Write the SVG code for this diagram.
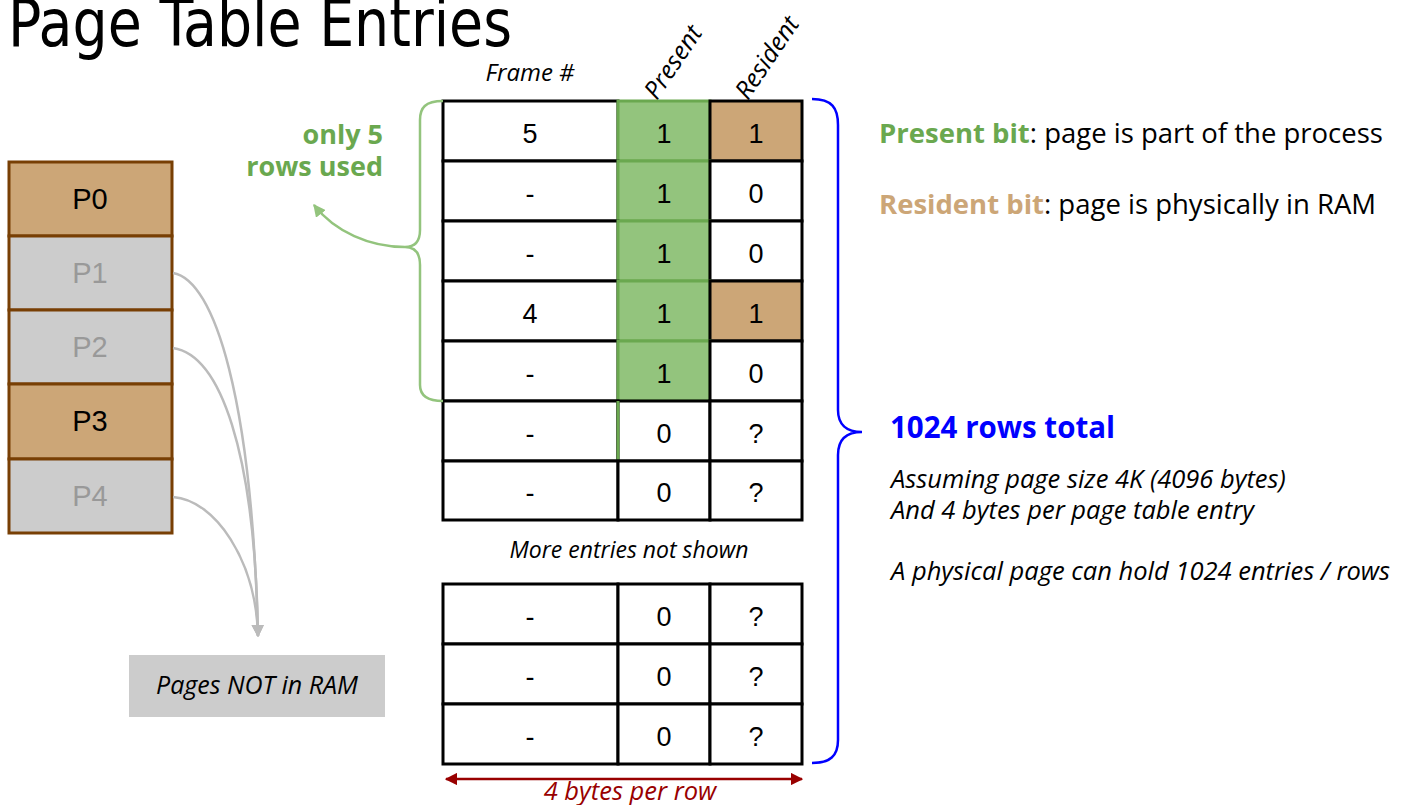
<svg xmlns="http://www.w3.org/2000/svg" width="1407" height="805" viewBox="0 0 1407 805">
<defs>
<style>
.cell{fill:#ffffff;stroke:#000000;stroke-width:3}
.num{font-family:"Liberation Sans",Arial,sans-serif;font-size:27px;text-anchor:middle;fill:#000}
.it{font-family:"Open Sans",sans-serif;font-style:italic;fill:#000}
.pg{stroke:#783f04;stroke-width:3}
.pt{font-family:"Liberation Sans",Arial,sans-serif;font-size:29px;text-anchor:middle}
.gcurve{fill:none;stroke:#bbbbbb;stroke-width:2.5}
</style>
<marker id="grayArrow" viewBox="0 0 10 10" refX="9" refY="5" markerWidth="5" markerHeight="5" orient="auto" markerUnits="strokeWidth">
<path d="M0,0 L10,5 L0,10 z" fill="#bbbbbb"/>
</marker>
<marker id="greenArrow" viewBox="0 0 10 10" refX="9" refY="5" markerWidth="5" markerHeight="5" orient="auto" markerUnits="strokeWidth">
<path d="M0,0 L10,5 L0,10 z" fill="#93c47d"/>
</marker>
<marker id="redArrow" viewBox="0 0 10 10" refX="9" refY="5" markerWidth="5" markerHeight="5" orient="auto-start-reverse" markerUnits="strokeWidth">
<path d="M0,0 L10,5 L0,10 z" fill="#990000"/>
</marker>
</defs>
<rect width="1407" height="805" fill="#ffffff"/>

<text x="8" y="46" font-family="'DejaVu Sans Condensed','DejaVu Sans',sans-serif" font-weight="300" font-size="66" textLength="504" lengthAdjust="spacingAndGlyphs" fill="#000">Page Table Entries</text>

<!-- column headers -->
<text class="it" x="530" y="81" font-size="24" text-anchor="middle">Frame #</text>
<text class="it" font-size="25" transform="translate(657,101) rotate(-56)">Present</text>
<text class="it" font-size="25" transform="translate(748,101) rotate(-56)">Resident</text>

<!-- page table top -->
<g id="table-top">
<rect class="cell" x="443" y="101" width="175" height="60"/>
<rect x="618" y="101" width="92" height="60" fill="#93c47d" stroke="#6aa84f" stroke-width="3"/>
<rect x="710" y="101" width="92" height="60" fill="#cca677" stroke="#000" stroke-width="3"/>
<text class="num" x="530" y="143">5</text><text class="num" x="664" y="143">1</text><text class="num" x="756" y="143">1</text>

<rect class="cell" x="443" y="161" width="175" height="60"/>
<rect x="618" y="161" width="92" height="60" fill="#93c47d" stroke="#6aa84f" stroke-width="3"/>
<rect class="cell" x="710" y="161" width="92" height="60"/>
<text class="num" x="530" y="203">-</text><text class="num" x="664" y="203">1</text><text class="num" x="756" y="203">0</text>

<rect class="cell" x="443" y="221" width="175" height="60"/>
<rect x="618" y="221" width="92" height="60" fill="#93c47d" stroke="#6aa84f" stroke-width="3"/>
<rect class="cell" x="710" y="221" width="92" height="60"/>
<text class="num" x="530" y="263">-</text><text class="num" x="664" y="263">1</text><text class="num" x="756" y="263">0</text>

<rect class="cell" x="443" y="281" width="175" height="60"/>
<rect x="618" y="281" width="92" height="60" fill="#93c47d" stroke="#6aa84f" stroke-width="3"/>
<rect x="710" y="281" width="92" height="60" fill="#cca677" stroke="#000" stroke-width="3"/>
<text class="num" x="530" y="323">4</text><text class="num" x="664" y="323">1</text><text class="num" x="756" y="323">1</text>

<rect class="cell" x="443" y="341" width="175" height="60"/>
<rect x="618" y="341" width="92" height="60" fill="#93c47d" stroke="#6aa84f" stroke-width="3"/>
<rect class="cell" x="710" y="341" width="92" height="60"/>
<text class="num" x="530" y="383">-</text><text class="num" x="664" y="383">1</text><text class="num" x="756" y="383">0</text>

<rect class="cell" x="443" y="401" width="175" height="60"/>
<rect class="cell" x="618" y="401" width="92" height="60"/>
<line x1="618" y1="401" x2="618" y2="460" stroke="#6aa84f" stroke-width="3"/>
<rect class="cell" x="710" y="401" width="92" height="60"/>
<text class="num" x="530" y="443">-</text><text class="num" x="664" y="443">0</text><text class="num" x="756" y="443">?</text>

<rect class="cell" x="443" y="461" width="175" height="59"/>
<rect class="cell" x="618" y="461" width="92" height="59"/>
<rect class="cell" x="710" y="461" width="92" height="59"/>
<text class="num" x="530" y="502">-</text><text class="num" x="664" y="502">0</text><text class="num" x="756" y="502">?</text>
</g>

<text class="it" x="629" y="558" font-size="23" text-anchor="middle">More entries not shown</text>

<g id="table-bottom">
<rect class="cell" x="443" y="584" width="175" height="60"/>
<rect class="cell" x="618" y="584" width="92" height="60"/>
<rect class="cell" x="710" y="584" width="92" height="60"/>
<text class="num" x="530" y="626">-</text><text class="num" x="664" y="626">0</text><text class="num" x="756" y="626">?</text>
<rect class="cell" x="443" y="644" width="175" height="60"/>
<rect class="cell" x="618" y="644" width="92" height="60"/>
<rect class="cell" x="710" y="644" width="92" height="60"/>
<text class="num" x="530" y="686">-</text><text class="num" x="664" y="686">0</text><text class="num" x="756" y="686">?</text>
<rect class="cell" x="443" y="704" width="175" height="60"/>
<rect class="cell" x="618" y="704" width="92" height="60"/>
<rect class="cell" x="710" y="704" width="92" height="60"/>
<text class="num" x="530" y="746">-</text><text class="num" x="664" y="746">0</text><text class="num" x="756" y="746">?</text>
</g>

<!-- left page stack -->
<g id="P0"><rect class="pg" x="9" y="162" width="163" height="74" fill="#cca677"/><text class="pt" x="90" y="209" fill="#000">P0</text></g>
<g id="P1"><rect class="pg" x="9" y="236" width="163" height="74" fill="#cccccc"/><text class="pt" x="90" y="283" fill="#999999">P1</text></g>
<g id="P2"><rect class="pg" x="9" y="310" width="163" height="74" fill="#cccccc"/><text class="pt" x="90" y="357" fill="#999999">P2</text></g>
<g id="P3"><rect class="pg" x="9" y="384" width="163" height="75" fill="#cca677"/><text class="pt" x="90" y="431" fill="#000">P3</text></g>
<g id="P4"><rect class="pg" x="9" y="459" width="163" height="74" fill="#cccccc"/><text class="pt" x="90" y="506" fill="#999999">P4</text></g>

<g id="not-in-ram">
<rect x="129" y="655" width="256" height="62" fill="#cccccc"/>
<text class="it" x="257" y="694" font-size="25" text-anchor="middle">Pages NOT in RAM</text>
</g>

<!-- labels -->
<g id="only5" font-family="'Open Sans',sans-serif" font-weight="bold" font-size="27" fill="#6aa84f" text-anchor="end">
<text x="383" y="144">only 5</text>
<text x="383" y="176">rows used</text>
</g>

<g id="legend" font-family="'Open Sans',sans-serif" font-size="27.5">
<text x="879" y="143" fill="#000"><tspan font-weight="bold" fill="#6aa84f">Present bit</tspan>: page is part of the process</text>
<text x="879" y="214" fill="#000"><tspan font-weight="bold" fill="#cca677">Resident bit</tspan>: page is physically in RAM</text>
</g>

<g id="rows-total">
<text x="890" y="438" font-family="'Open Sans',sans-serif" font-weight="bold" font-size="29.5" fill="#0000ff">1024 rows total</text>
<text class="it" x="891" y="488" font-size="25.5">Assuming page size 4K (4096 bytes)</text>
<text class="it" x="891" y="519" font-size="25.5">And 4 bytes per page table entry</text>
<text class="it" x="891" y="580" font-size="25.5">A physical page can hold 1024 entries / rows</text>
</g>

<text x="630" y="800" font-family="'Open Sans',sans-serif" font-style="italic" font-size="25.5" fill="#990000" text-anchor="middle">4 bytes per row</text>

<!-- connectors -->
<g id="connectors">
<path class="gcurve" d="M173,273 C215,280 252,400 258,636" marker-end="url(#grayArrow)"/>
<path class="gcurve" d="M173,348 C220,355 255,450 258,636" marker-end="url(#grayArrow)"/>
<path class="gcurve" d="M173,497 C215,500 256,560 258,636" marker-end="url(#grayArrow)"/>

<!-- green brace -->
<path d="M443,101 C425,101 420,108 420,120 L420,230 C420,243 414,247 405,247 C414,247 420,252 420,265 L420,385 C420,396 428,401 443,401" fill="none" stroke="#93c47d" stroke-width="2.5"/>
<path d="M405,247 C370,247 335,232 314,205" fill="none" stroke="#93c47d" stroke-width="2.5" marker-end="url(#greenArrow)"/>

<!-- blue brace -->
<path d="M812,99 C832,99 838,108 838,125 L838,410 C838,424 846,432 862,432 C846,432 838,440 838,455 L838,740 C838,756 830,763 812,763" fill="none" stroke="#0000ff" stroke-width="2.5"/>

<!-- 4 bytes arrow -->
<line x1="446" y1="779" x2="802" y2="779" stroke="#990000" stroke-width="2.5" marker-start="url(#redArrow)" marker-end="url(#redArrow)"/>
</g>
</svg>
